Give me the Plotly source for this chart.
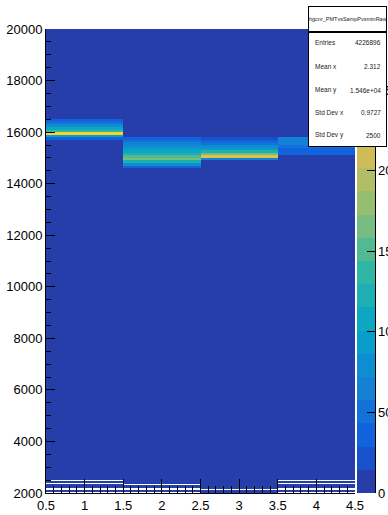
import plotly.graph_objects as go

# ---------------- data ----------------
x_edges = [0.5, 1.5, 2.5, 3.5, 4.5]
fine_y_edges = [2000, 2050, 2100, 2150, 2200, 2250, 2300, 2350, 2400, 2450, 2500, 2550, 2600]
coarse_step = 100
y_max = 20000

background = 40  # low counts filling most of the frame

# bottom region (2000-2600, 50-wide bins); None = empty bin
low_bin1 = [None, 40, None, None, 40, 40, 40, None, 40, None, 40, 40]
low_bin2 = [None, 40, None, None, 40, 40, None, 40, 40, 40, 40, 40]
low_bin3 = [40, 40, None, 40, 40, 40, 40, 40, 40, 40, 40, 40]
low_bin4 = [None, 40, None, None, 40, 40, 40, None, 40, None, 40, 40]

# band profiles (100-wide bins) starting at band_start
band_start = [15700, 14600, 14900, 15100]
band1 = [360, 936, 2520, 1368, 1080, 792, 504, 360]
band2 = [360, 792, 1224, 1656, 1512, 1224, 1080, 936, 792, 648, 504, 360]
band3 = [648, 2232, 1656, 1224, 936, 792, 504, 360, 216]
band4 = [288, 288, 360, 504, 576, 648, 648]

z_max = 2880
n_levels = 20
cbar_ticks = [0, 500, 1000, 1500, 2000, 2500]
x_ticks_labels = ["0.5", "1", "1.5", "2", "2.5", "3", "3.5", "4", "4.5"]
y_ticks = [2000, 4000, 6000, 8000, 10000, 12000, 14000, 16000, 18000, 20000]

stats_title = "hgcnr_PMTvsSampPvsmtnRaw"
stats_labels = ["Entries", "Mean x", "Mean y", "Std Dev x", "Std Dev y"]
stats_values = ["4226896", "2.312", "1.546e+04", "0.9727", "2500"]

# ---------------- build histogram ----------------
y_edges = fine_y_edges + list(range(2600 + coarse_step, y_max + 1, coarse_step))
n_rows = len(y_edges) - 1
z = [[background] * 4 for _ in range(n_rows)]
for col, low in enumerate([low_bin1, low_bin2, low_bin3, low_bin4]):
    for r, v in enumerate(low):
        z[r][col] = v
for col, band in enumerate([band1, band2, band3, band4]):
    r0 = y_edges.index(band_start[col])
    for k, v in enumerate(band):
        z[r0 + k][col] = v

# ROOT kBird palette, 20 discrete contour levels
bird_stops = [0.0, 0.125, 0.25, 0.375, 0.5, 0.625, 0.75, 0.875, 1.0]
bird_r = [0.2082, 0.0592, 0.0780, 0.0232, 0.1802, 0.5301, 0.8186, 0.9956, 0.9764]
bird_g = [0.1664, 0.3599, 0.5041, 0.6419, 0.7178, 0.7492, 0.7328, 0.7862, 0.9832]
bird_b = [0.5293, 0.8684, 0.8385, 0.7914, 0.6425, 0.4662, 0.3499, 0.1968, 0.0539]


def bird(t):
    t = min(max(t, 0.0), 1.0)
    for i in range(len(bird_stops) - 1):
        if bird_stops[i] <= t <= bird_stops[i + 1]:
            f = (t - bird_stops[i]) / (bird_stops[i + 1] - bird_stops[i])
            r = bird_r[i] + f * (bird_r[i + 1] - bird_r[i])
            g = bird_g[i] + f * (bird_g[i + 1] - bird_g[i])
            b = bird_b[i] + f * (bird_b[i + 1] - bird_b[i])
            return "rgb(%d,%d,%d)" % (round(r * 255), round(g * 255), round(b * 255))
    return "rgb(249,251,14)"


colorscale = []
for i in range(n_levels):
    c = bird((i + 0.99) / n_levels)
    colorscale.append([i / n_levels, c])
    colorscale.append([(i + 1) / n_levels, c])

# ---------------- figure ----------------
W, H = 388, 515
L, R, T, B = 46, 33, 29, 22
pw = W - L - R
ph = H - T - B


def px_x(x):
    return (x - L) / pw


def px_y(y):
    return (H - B - y) / ph


FONT = "Liberation Sans, Arial, Helvetica, sans-serif"

fig = go.Figure()
fig.add_trace(go.Heatmap(
    x=x_edges, y=y_edges, z=z,
    zmin=0, zmax=z_max, colorscale=colorscale, zsmooth=False,
    hoverongaps=False,
    colorbar=dict(
        x=px_x(357), xanchor="left", xpad=0,
        y=0.5, yanchor="middle", len=1, lenmode="fraction", ypad=0,
        thickness=18, thicknessmode="pixels", outlinewidth=0,
        tickmode="array", tickvals=cbar_ticks,
        ticktext=[str(v) for v in cbar_ticks],
        ticks="inside", ticklen=8, tickcolor="black",
        tickfont=dict(size=13, family=FONT, color="black"),
    ),
))

fig.update_xaxes(
    range=[0.5, 4.5], tickmode="array",
    tickvals=[0.5 + 0.5 * i for i in range(9)], ticktext=x_ticks_labels,
    ticks="inside", ticklen=14, tickcolor="black", tickwidth=1,
    minor=dict(dtick=0.1, tick0=0.5, ticks="inside", ticklen=7, tickcolor="black"),
    showline=True, linecolor="black", linewidth=1,
    showgrid=False, zeroline=False,
    tickfont=dict(size=13, family=FONT, color="black"),
)
fig.update_yaxes(
    range=[2000, 20000], tickmode="array", tickvals=y_ticks,
    ticktext=[str(v) for v in y_ticks],
    ticks="inside", ticklen=9, tickcolor="black", tickwidth=1,
    minor=dict(dtick=500, tick0=2000, ticks="inside", ticklen=5, tickcolor="black"),
    showline=True, linecolor="black", linewidth=1,
    showgrid=False, zeroline=False,
    tickfont=dict(size=13, family=FONT, color="black"),
)

# colorbar right-edge axis line
fig.add_shape(type="line", xref="paper", yref="paper",
              x0=px_x(375.5), x1=px_x(375.5), y0=0, y1=1,
              line=dict(color="black", width=1), layer="above")

# stats box (annotations are drawn above the colorbar)
bx0, bx1 = 308, 387
by0, bsep, by1 = 6, 32, 147
fig.add_annotation(xref="paper", yref="paper", x=px_x((bx0 + bx1) / 2), y=px_y((by0 + bsep) / 2),
                   xanchor="center", yanchor="middle", text=" ", showarrow=False,
                   width=bx1 - bx0 - 2, height=bsep - by0 - 2, borderpad=0, borderwidth=1,
                   bordercolor="black", bgcolor="white")
fig.add_annotation(xref="paper", yref="paper", x=px_x((bx0 + bx1) / 2), y=px_y((bsep + by1) / 2),
                   xanchor="center", yanchor="middle", text=" ", showarrow=False,
                   width=bx1 - bx0 - 2, height=by1 - bsep - 2, borderpad=0, borderwidth=1,
                   bordercolor="black", bgcolor="white")
fig.add_annotation(xref="paper", yref="paper", x=px_x((bx0 + bx1) / 2), y=px_y(19),
                   xanchor="center", yanchor="middle", text=stats_title, showarrow=False,
                   font=dict(size=5.5, family=FONT, color="#222"))
row_y = [43, 67, 90, 113, 135]
for lab, val, yy in zip(stats_labels, stats_values, row_y):
    fig.add_annotation(xref="paper", yref="paper", x=px_x(313), y=px_y(yy),
                       xanchor="left", yanchor="middle", text=lab, showarrow=False,
                       font=dict(size=6.5, family=FONT, color="#222"))
    fig.add_annotation(xref="paper", yref="paper", x=px_x(383), y=px_y(yy),
                       xanchor="right", yanchor="middle", text=val, showarrow=False,
                       font=dict(size=6.5, family=FONT, color="#222"))

fig.update_layout(
    width=W, height=H,
    margin=dict(l=L, r=R, t=T, b=B, autoexpand=False),
    paper_bgcolor="white", plot_bgcolor="white",
    showlegend=False,
    font=dict(family=FONT, color="black"),
)

fig.write_html("out.html", config={"displayModeBar": False},
               post_script="document.body.style.margin='0';document.body.style.overflow='hidden';")
